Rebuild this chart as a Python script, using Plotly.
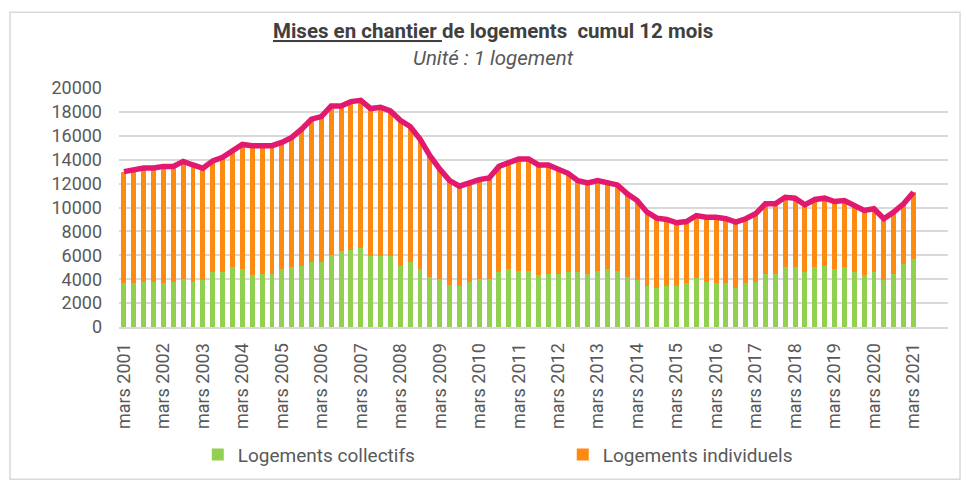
import plotly.graph_objects as go

years = list(range(2001, 2022))
quarter_months = ["mars", "juin", "sept.", "déc."]
categories = []
for y in years:
    for m in quarter_months:
        categories.append(f"{m} {y}")
categories = categories[:81]  # mars 2001 -> mars 2021

total = [13000, 13170, 13300, 13300, 13440, 13440, 13860, 13560,
         13280, 13900, 14200, 14750, 15280, 15170, 15170, 15170,
         15450, 15860, 16560, 17390, 17610, 18500, 18500, 18860,
         18970, 18280, 18390, 18080, 17300, 16780, 15720, 14330,
         13220, 12250, 11780, 12110, 12330, 12470, 13440, 13750,
         14060, 14060, 13560, 13560, 13170, 12860, 12250, 12060,
         12250, 12060, 11890, 11140, 10580, 9610, 9110, 9000,
         8720, 8830, 9330, 9190, 9190, 9060, 8780, 9060,
         9470, 10310, 10310, 10860, 10780, 10220, 10670, 10780,
         10500, 10580, 10170, 9750, 9890, 9060, 9610, 10310,
         11280]

collectifs = [3670, 3670, 3800, 3800, 3700, 3800, 4050, 3800,
              3950, 4600, 4600, 5000, 4860, 4330, 4470, 4470,
              4860, 5000, 5140, 5420, 5420, 6060, 6330, 6440,
              6580, 5920, 5920, 5920, 5140, 5420, 4860, 4190,
              4050, 3530, 3420, 3800, 4050, 4050, 4610, 4860,
              4720, 4720, 4330, 4470, 4470, 4610, 4610, 4470,
              4720, 4860, 4720, 4190, 3940, 3420, 3280, 3420,
              3420, 3670, 4060, 3800, 3670, 3670, 3280, 3670,
              3800, 4470, 4470, 5000, 5000, 4610, 5000, 5140,
              4860, 5000, 4610, 4330, 4610, 3940, 4470, 5280,
              5670]

individuels = [t - c for t, c in zip(total, collectifs)]

tick_labels = [f"mars {y}" for y in years]

FONT = "Roboto"
GRAY = "#595959"

fig = go.Figure()
fig.add_trace(go.Bar(x=categories, y=collectifs, name="Logements collectifs",
                     marker=dict(color="#92d050", line=dict(width=0))))
fig.add_trace(go.Bar(x=categories, y=individuels, name="Logements individuels",
                     marker=dict(color="#ff8a12", line=dict(width=0))))
fig.add_trace(go.Scatter(x=categories, y=total, mode="lines", showlegend=False,
                         line=dict(color="#e2196f", width=5.5)))

fig.update_layout(
    width=966, height=484,
    barmode="stack", bargap=0.5,
    paper_bgcolor="white", plot_bgcolor="white",
    margin=dict(l=119, r=18, t=88, b=156),
    font=dict(family=FONT, size=18, color=GRAY),
    showlegend=True,
    legend=dict(orientation="h", x=0.095, xanchor="left", y=-0.528, yanchor="middle",
                entrywidth=320, entrywidthmode="pixels",
                font=dict(size=19, color=GRAY), traceorder="normal",
                bgcolor="rgba(0,0,0,0)"),
    xaxis=dict(type="category", categoryorder="array", categoryarray=categories,
               range=[-0.5, 83.5], tickmode="array", tickvals=tick_labels,
               ticktext=tick_labels, tickangle=-90, ticks="", showgrid=False,
               showline=True, linecolor="#d9d9d9", linewidth=2, automargin=False,
               tickfont=dict(size=18, color=GRAY), ticklabelstandoff=7),
    yaxis=dict(range=[0, 20000], dtick=2000, tick0=0, showgrid=True,
               gridcolor="#d9d9d9", gridwidth=2, zeroline=False, automargin=False,
               tickformat="d", tickfont=dict(size=18, color=GRAY),
               ticks="", ticklabelstandoff=16),
    shapes=[dict(type="rect", xref="paper", yref="paper",
                 x0=-0.1315, x1=1.0145, y0=-0.6375, y1=1.3167,
                 line=dict(color="#d9d9d9", width=1.5), fillcolor="rgba(0,0,0,0)",
                 layer="below")],
    annotations=[
        dict(xref="paper", yref="paper", x=(493 - 119) / 829, y=(328 - 31) / 240,
             xanchor="center", yanchor="middle", showarrow=False,
             text="<b><u>Mises en chantier </u>de logements  cumul 12 mois</b>",
             font=dict(family=FONT, size=20.5, color="#404040")),
        dict(xref="paper", yref="paper", x=(493 - 119) / 829, y=(328 - 58) / 240,
             xanchor="center", yanchor="middle", showarrow=False,
             text="<i>Unité : 1 logement</i>",
             font=dict(family=FONT, size=20.5, color=GRAY)),
    ],
)

fig.write_html("out.html", config={"displayModeBar": False},
               post_script="document.body.style.margin='0';")
